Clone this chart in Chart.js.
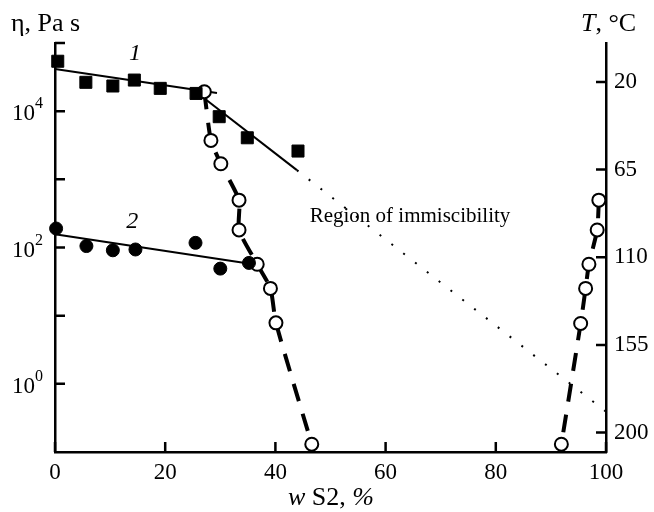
<!DOCTYPE html>
<html>
<head>
<meta charset="utf-8">
<script src="https://cdn.jsdelivr.net/npm/chart.js@4.4.1/dist/chart.umd.min.js"></script>
<style>
  html, body { margin: 0; padding: 0; background: #fff; }
</style>
</head>
<body>
<canvas id="myChart" width="654" height="512"></canvas>
<script>
// define constants
const FONT = "Liberation Serif";
const INK = "#000";
const TICK_FONT = "23px " + FONT;
const TITLE_PX = 26;

// curve 1: viscosity, filled squares
const w1 = [0.5, 5.6, 10.5, 14.4, 19.1, 25.6, 29.8, 34.9, 44.1];
const eta1 = [54000, 26500, 23400, 28600, 21600, 18200, 8300, 4070, 2600];
// curve 1 fitted lines (two solid pieces, dotted extrapolation)
const fit1aW = [0, 29.4];
const fit1aEta = [41500, 18500];
const fit1bW = [24.9, 43.9];
const fit1bEta = [21100, 1365];
const fit1cW = [43.9, 100];
const fit1cEta = [1365, 0.39];

// curve 2: viscosity, filled circles
const w2 = [0.2, 5.7, 10.5, 14.6, 25.5, 30, 35.2];
const eta2 = [190, 105, 91, 93.5, 117, 49, 59.4];
const fit2W = [0, 36];
const fit2Eta = [157, 57];

// phase boundary (temperature), open circles
const wLeft = [27.1, 28.3, 30.1, 33.4, 33.4, 36.7, 39.1, 40.1, 46.6];
const tLeft = [25, 50, 62, 80.7, 96, 113.6, 126, 143.7, 206];
const wRight = [98.7, 98.4, 96.9, 96.3, 95.4, 91.9];
const tRight = [80.7, 96, 113.6, 126, 144, 206];

// tick labels
const xTicks = [0, 20, 40, 60, 80, 100];
const etaMajorExp = [0, 2, 4];
const etaMinorExp = [1, 3, 5];
const tTicks = [20, 65, 110, 155, 200];

function pts(xs, ys) {
  return xs.map((x, i) => ({ x: x, y: ys[i] }));
}

// write mixed italic / upright pieces one after another
function mixedText(ctx, parts, x, y, px) {
  parts.forEach(p => {
    ctx.font = (p[1] ? "italic " : "") + px + "px " + FONT;
    ctx.fillText(p[0], x, y);
    x += ctx.measureText(p[0]).width;
  });
}
function mixedWidth(ctx, parts, px) {
  let w = 0;
  parts.forEach(p => {
    ctx.font = (p[1] ? "italic " : "") + px + "px " + FONT;
    w += ctx.measureText(p[0]).width;
  });
  return w;
}

// draws tick marks, tick labels, axis titles and annotations
const decorPlugin = {
  id: 'decor',
  afterDraw(chart) {
    const ctx = chart.ctx;
    const sx = chart.scales.x, sy = chart.scales.y, st = chart.scales.y2;
    const area = chart.chartArea;
    ctx.save();
    ctx.strokeStyle = INK;
    ctx.fillStyle = INK;
    ctx.lineWidth = 2.5;

    // inward tick marks
    ctx.beginPath();
    xTicks.forEach(v => {
      const px = sx.getPixelForValue(v);
      ctx.moveTo(px, area.bottom);
      ctx.lineTo(px, area.bottom - 10);
    });
    etaMajorExp.concat(etaMinorExp).forEach(e => {
      const py = sy.getPixelForValue(Math.pow(10, e));
      ctx.moveTo(area.left, py);
      ctx.lineTo(area.left + 10, py);
    });
    tTicks.forEach(v => {
      const py = st.getPixelForValue(v);
      ctx.moveTo(area.right, py);
      ctx.lineTo(area.right - 10, py);
    });
    ctx.stroke();

    // x tick labels
    ctx.font = TICK_FONT;
    ctx.textAlign = 'center';
    ctx.textBaseline = 'middle';
    xTicks.forEach(v => {
      ctx.fillText(String(v), sx.getPixelForValue(v), area.bottom + 21);
    });

    // left tick labels 10^n
    ctx.textAlign = 'left';
    etaMajorExp.forEach(e => {
      const py = sy.getPixelForValue(Math.pow(10, e));
      ctx.font = "16px " + FONT;
      const we = ctx.measureText(String(e)).width;
      ctx.font = TICK_FONT;
      const wb = ctx.measureText("10").width;
      const xEnd = area.left - 12;
      ctx.fillText("10", xEnd - we - wb, py + 3);
      ctx.font = "16px " + FONT;
      ctx.fillText(String(e), xEnd - we, py - 7);
    });

    // right tick labels
    ctx.font = TICK_FONT;
    tTicks.forEach(v => {
      ctx.fillText(String(v), area.right + 8, st.getPixelForValue(v));
    });

    // axis titles
    ctx.textBaseline = 'alphabetic';
    mixedText(ctx, [["\u03b7, Pa s", false]], 11, 31, TITLE_PX);
    mixedText(ctx, [["T", true], [", \u00b0C", false]], 581, 31, TITLE_PX);

    const xParts = [["w ", true], ["S2, ", false], ["%", true]];
    const xw = mixedWidth(ctx, xParts, TITLE_PX);
    mixedText(ctx, xParts, 331 - xw / 2, 505, TITLE_PX);

    // curve numbers
    ctx.font = "italic 24px " + FONT;
    ctx.textAlign = 'center';
    ctx.textBaseline = 'middle';
    ctx.fillText("1", sx.getPixelForValue(14.5), 54);
    ctx.fillText("2", sx.getPixelForValue(14), 222);

    // region label
    ctx.font = "21px " + FONT;
    ctx.fillText("Region of immiscibility", 410, 216);

    ctx.restore();
  }
};

const lineBase = {
  type: 'line',
  yAxisID: 'y',
  borderColor: INK,
  borderWidth: 2,
  pointRadius: 0,
  fill: false,
};

const openCircleLine = {
  type: 'line',
  yAxisID: 'y2',
  borderColor: INK,
  borderWidth: 4,
  borderDash: [18, 13],
  tension: 0.2,
  pointStyle: 'circle',
  pointRadius: 6.5,
  pointBorderWidth: 2,
  pointBackgroundColor: '#fff',
  pointBorderColor: INK,
  fill: false,
};

new Chart(document.getElementById('myChart').getContext('2d'), {
  type: 'scatter',
  data: {
    datasets: [
      {
        label: '1',
        data: pts(w1, eta1),
        yAxisID: 'y',
        pointStyle: 'rect',
        pointRadius: 8.5,
        backgroundColor: INK,
        borderColor: INK,
        showLine: false,
      },
      {
        label: '2',
        data: pts(w2, eta2),
        yAxisID: 'y',
        pointStyle: 'circle',
        pointRadius: 6.5,
        backgroundColor: INK,
        borderColor: INK,
        showLine: false,
      },
      Object.assign({}, openCircleLine, { label: 'T left', data: pts(wLeft, tLeft) }),
      Object.assign({}, openCircleLine, { label: 'T right', data: pts(wRight, tRight) }),
      Object.assign({}, lineBase, { label: 'fit 1a', data: pts(fit1aW, fit1aEta) }),
      Object.assign({}, lineBase, { label: 'fit 1b', data: pts(fit1bW, fit1bEta) }),
      Object.assign({}, lineBase, { label: 'fit 1c', data: pts(fit1cW, fit1cEta), borderDash: [2, 13] }),
      Object.assign({}, lineBase, { label: 'fit 2', data: pts(fit2W, fit2Eta) }),
    ]
  },
  options: {
    responsive: false,
    animation: false,
    clip: false,
    layout: { padding: { top: 43, left: 0, right: 0, bottom: 0 } },
    scales: {
      x: {
        type: 'linear',
        min: 0,
        max: 100,
        grid: { display: false },
        ticks: { display: false },
        border: { display: true, color: INK, width: 2.5 },
        afterFit: (s) => { s.height = 60; },
      },
      y: {
        type: 'logarithmic',
        position: 'left',
        min: 0.1,
        max: 100000,
        grid: { display: false },
        ticks: { display: false },
        border: { display: true, color: INK, width: 2.5 },
        afterFit: (s) => { s.width = 55; },
      },
      y2: {
        type: 'linear',
        position: 'right',
        reverse: true,
        min: 0,
        max: 210,
        grid: { display: false },
        ticks: { display: false },
        border: { display: true, color: INK, width: 2.5 },
        afterFit: (s) => { s.width = 48; },
      },
    },
    plugins: {
      legend: { display: false },
      tooltip: { enabled: false },
    },
  },
  plugins: [decorPlugin],
});
</script>
</body>
</html>
